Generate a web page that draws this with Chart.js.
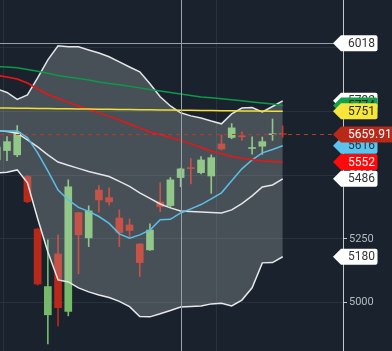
<!DOCTYPE html>
<html>
<head>
<meta charset="utf-8">
<script src="https://cdn.jsdelivr.net/npm/chart.js@4.4.1/dist/chart.umd.min.js"></script>
<style>
html, body { margin: 0; padding: 0; background: #1a232d; overflow: hidden; }
#wrap { width: 392px; height: 351px; }
</style>
</head>
<body>
<div id="wrap"><canvas id="chart" width="392" height="351"></canvas></div>
<script>
// bar index, 0 = first full candle at the left edge
const idx = [-1, 0, 1, 2, 3, 4, 5, 6, 7, 8, 9, 10, 11, 12, 13, 14, 15, 16, 17, 18, 19, 20, 21, 22, 23, 24, 25, 26, 27];

const opens  = [5560, 5597, 5580, 5495, 5289, 4952, 5191, 4965, 5353, 5254, 5442, 5412, 5332, 5305, 5230, 5207, 5395, 5381, 5491, 5530, 5510, 5497, 5623, 5648, 5655, 5605, 5614, 5659, 5662];
const highs  = [5620, 5652, 5695, 5499, 5291, 5246, 5266, 5482, 5355, 5380, 5459, 5451, 5364, 5329, 5232, 5309, 5471, 5491, 5528, 5566, 5573, 5580, 5658, 5703, 5670, 5651, 5650, 5721, 5694];
const lows   = [5545, 5557, 5573, 5392, 5069, 4838, 4908, 4948, 5113, 5220, 5355, 5383, 5220, 5259, 5102, 5205, 5357, 5374, 5455, 5466, 5505, 5429, 5599, 5643, 5637, 5583, 5582, 5637, 5649];
const closes = [5611, 5632, 5669, 5396, 5073, 5063, 4980, 5455, 5266, 5360, 5403, 5395, 5275, 5283, 5157, 5285, 5377, 5482, 5525, 5526, 5560, 5569, 5603, 5686, 5651, 5608, 5632, 5662, 5659.91];

// Bollinger bands
const upperBand  = [5839, 5825, 5798, 5815, 5882, 5953, 6008, 6004, 6004, 5992, 5980, 5965, 5945, 5925, 5906, 5859, 5808, 5772, 5745, 5733, 5725, 5713, 5702, 5741, 5764, 5766, 5749, 5770, 5792];
const middleBand = [5676, 5672, 5665, 5639, 5611, 5580, 5552, 5539, 5527, 5515, 5505, 5495, 5476, 5456, 5431, 5409, 5387, 5372, 5360, 5358, 5356, 5354, 5352, 5364, 5389, 5419, 5454, 5462, 5486];
const lowerBand  = [5509, 5512, 5521, 5470, 5330, 5199, 5089, 5081, 5058, 5042, 5030, 5020, 5005, 4984, 4945, 4944, 4956, 4969, 4983, 4985, 4987, 4995, 4997, 4987, 5010, 5058, 5156, 5157, 5180];

// moving averages
const maGreen  = [5927, 5925, 5922, 5915, 5908, 5900, 5892, 5886, 5880, 5874, 5866, 5860, 5855, 5849, 5843, 5837, 5831, 5825, 5819, 5813, 5807, 5804, 5800, 5796, 5792, 5788, 5784, 5780, 5774];
const maYellow = [5764, 5764, 5763, 5763, 5762, 5762, 5761, 5761, 5760, 5760, 5759, 5759, 5758, 5758, 5757, 5757, 5756, 5756, 5755, 5755, 5754, 5754, 5753, 5753, 5752, 5752, 5752, 5751, 5751];
const maRed    = [5892, 5886, 5878, 5862, 5839, 5817, 5802, 5786, 5772, 5758, 5745, 5731, 5717, 5701, 5686, 5670, 5660, 5648, 5637, 5623, 5609, 5595, 5584, 5574, 5567, 5562, 5556, 5554, 5552];
const maBlue   = [5674, 5674, 5674, 5648, 5588, 5517, 5442, 5403, 5374, 5358, 5338, 5311, 5270, 5253, 5266, 5285, 5325, 5327, 5352, 5368, 5385, 5407, 5431, 5478, 5525, 5560, 5588, 5601, 5616];

const lastPrice = 5659.91;
const crossIndex = 17;
const crossPrice = 6018;
const yTicks = [5000, 5250, 5500, 5750, 6000];
const timeGrid = [-0.39, 20.56];

const X_MIN = -0.685, X_MAX = 32.9;
const UP = '#76b96b', DOWN = '#b8291a';

const pts = arr => arr.map((v, k) => ({ x: idx[k], y: v }));
const isUp = k => closes[k] >= opens[k];

function lineDs(label, data, color, order, extra) {
    return Object.assign({
        type: 'line', label: label, data: pts(data),
        borderColor: color, borderWidth: 1.5, pointRadius: 0,
        tension: 0, fill: false, order: order
    }, extra || {});
}

// price tag on the right axis
function drawTag(ctx, y, text, bg, fg) {
    const x0 = 333, h = 16;
    ctx.font = '12px Roboto';
    const tw = ctx.measureText(text).width;
    const right = 348 + tw + 2.5;
    ctx.beginPath();
    ctx.moveTo(x0, y);
    ctx.lineTo(x0 + 8, y - h / 2);
    ctx.lineTo(right - 2, y - h / 2);
    ctx.quadraticCurveTo(right, y - h / 2, right, y - h / 2 + 2);
    ctx.lineTo(right, y + h / 2 - 2);
    ctx.quadraticCurveTo(right, y + h / 2, right - 2, y + h / 2);
    ctx.lineTo(x0 + 8, y + h / 2);
    ctx.closePath();
    ctx.fillStyle = bg;
    ctx.fill();
    ctx.fillStyle = fg;
    ctx.textBaseline = 'middle';
    ctx.textAlign = 'left';
    ctx.fillText(text, 348, y + 0.5);
}

const overlay = {
    id: 'overlay',
    afterDraw(chart) {
        const ctx = chart.ctx, xs = chart.scales.x, ys = chart.scales.y, a = chart.chartArea;
        ctx.save();
        // crosshair
        ctx.strokeStyle = '#98a1a9';
        ctx.lineWidth = 1;
        const cx = Math.round(xs.getPixelForValue(crossIndex)) + 0.5;
        const cy = Math.round(ys.getPixelForValue(crossPrice)) + 0.5;
        ctx.beginPath();
        ctx.moveTo(cx, a.top); ctx.lineTo(cx, a.bottom);
        ctx.moveTo(a.left, cy); ctx.lineTo(a.right, cy);
        ctx.stroke();

        const n = idx.length - 1;
        const tags = [
            [upperBand[n], String(upperBand[n]), '#ffffff', '#333333'],
            [maGreen[n], String(maGreen[n]), '#12a04c', '#222222'],
            [maYellow[n], String(maYellow[n]), '#f6e53a', '#2a2a2a'],
            [maBlue[n], String(maBlue[n]), '#5cc3ec', '#1c3442'],
            [maRed[n], String(maRed[n]), '#ff0a0a', '#ffffff'],
            [middleBand[n], String(middleBand[n]), '#ffffff', '#333333'],
            [lowerBand[n], String(lowerBand[n]), '#ffffff', '#333333'],
            [crossPrice, String(crossPrice), '#ffffff', '#333333'],
            [lastPrice, lastPrice.toFixed(2), '#b8291a', '#ffffff']
        ];
        tags.forEach(t => drawTag(ctx, ys.getPixelForValue(t[0]), t[1], t[2], t[3]));
        ctx.restore();
    }
};

new Chart(document.getElementById('chart'), {
    type: 'bar',
    data: {
        datasets: [
            lineDs('Upper', upperBand, '#e4e6e8', 10, { fill: 1, backgroundColor: 'rgba(255,255,255,0.2)' }),
            lineDs('Lower', lowerBand, '#e4e6e8', 10),
            lineDs('Middle', middleBand, '#e4e6e8', 9),
            lineDs('MA green', maGreen, '#0c9a48', 6),
            lineDs('MA yellow', maYellow, '#f2e032', 6),
            lineDs('MA red', maRed, '#f01414', 6),
            lineDs('MA blue', maBlue, '#5bbfe6', 6),
            {
                type: 'line', label: 'Last', order: 2,
                data: [{ x: X_MIN, y: lastPrice }, { x: X_MAX, y: lastPrice }],
                borderColor: '#b23a26', borderWidth: 1, borderDash: [4, 4], pointRadius: 0
            },
            {
                type: 'bar', label: 'Wick', order: 21, grouped: false,
                data: idx.map((x, k) => ({ x: x, y: [lows[k], highs[k]] })),
                backgroundColor: idx.map((x, k) => isUp(k) ? UP : DOWN),
                barThickness: 1, borderSkipped: false
            },
            {
                type: 'bar', label: 'Body', order: 20, grouped: false,
                data: idx.map((x, k) => ({ x: x, y: [opens[k], closes[k]] })),
                backgroundColor: idx.map((x, k) => isUp(k) ? UP : DOWN),
                barThickness: 7, minBarLength: 1, borderSkipped: false
            }
        ]
    },
    options: {
        responsive: false,
        animation: false,
        devicePixelRatio: 1,
        layout: { padding: 0 },
        plugins: { legend: { display: false }, tooltip: { enabled: false } },
        scales: {
            x: {
                type: 'linear', min: X_MIN, max: X_MAX, offset: false,
                grid: { color: '#27323d', drawTicks: false, offset: false },
                border: { display: false },
                ticks: { display: false },
                afterBuildTicks: s => { s.ticks = timeGrid.map(v => ({ value: v })); },
                afterFit: s => { s.height = 0; s.paddingLeft = 0; s.paddingRight = 0; }
            },
            y: {
                position: 'right', min: 4810, max: 6188,
                grid: { color: '#27323d', tickLength: 4, tickColor: '#c4c8cc' },
                border: { color: '#c4c8cc', width: 1 },
                ticks: {
                    color: '#b4bac0', padding: 2,
                    font: { family: 'Roboto', size: 11 },
                    callback: v => String(v)
                },
                afterBuildTicks: s => { s.ticks = yTicks.map(v => ({ value: v })); },
                afterFit: s => { s.width = 49; s.paddingTop = 0; s.paddingBottom = 0; }
            }
        }
    },
    plugins: [overlay]
});
</script>
</body>
</html>
